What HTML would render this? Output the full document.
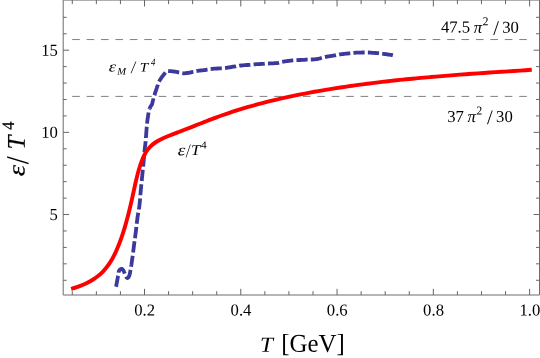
<!DOCTYPE html>
<html><head><meta charset="utf-8"><title>plot</title>
<style>
html,body{margin:0;padding:0;background:#fff;overflow:hidden;}
svg{display:block;will-change:transform;}
text{font-family:"Liberation Serif",serif;fill:#000;text-rendering:geometricPrecision;}
</style></head><body>
<svg width="540" height="358" viewBox="0 0 540 358">
<rect x="0" y="0" width="540" height="358" fill="#ffffff"/>
<line x1="72.2" y1="39.55" x2="529.6" y2="39.55" stroke="#808080" stroke-width="1" stroke-dasharray="7.6 6.82"/>
<line x1="72.2" y1="96.40" x2="529.6" y2="96.40" stroke="#808080" stroke-width="1" stroke-dasharray="7.6 6.82"/>
<polyline points="116.0,286.8 116.2,286.0 116.3,285.2 116.5,284.4 116.6,283.7 116.8,282.9 116.9,282.1 117.1,281.3 117.2,280.5 117.4,279.7 117.5,278.9 117.6,278.2 117.8,277.4 117.9,276.6 118.1,275.8 118.2,275.0 118.3,274.2 118.4,273.4 118.5,272.6 118.7,271.8 119.0,271.1 119.3,270.4 119.8,269.7 120.4,269.2 121.1,268.9 121.9,269.0 122.6,269.4 123.1,270.0 123.5,270.7 123.9,271.4 124.2,272.2 124.5,272.9 124.8,273.7 125.1,274.4 125.4,275.2 125.6,275.9 126.0,276.6 126.4,277.3 126.9,277.9 127.7,278.0 128.4,277.5 128.8,276.8 129.1,276.1 129.4,275.3 129.6,274.6 129.8,273.8 130.0,273.0 130.1,272.2 130.3,271.4 130.4,270.6 130.5,269.9 130.7,269.1 130.8,268.3 131.0,267.5 131.1,266.7 131.2,265.9 131.4,265.1 131.5,264.3 131.6,263.5 131.7,262.8 131.8,262.0 131.9,261.2 132.0,260.4 132.1,259.6 132.2,258.8 132.4,258.0 132.5,257.2 132.6,256.4 132.7,255.6 132.8,254.8 132.9,254.0 133.0,253.2 133.1,252.4 133.2,251.7 133.3,250.9 133.4,250.1 133.5,249.3 133.6,248.5 133.7,247.7 133.8,246.9 133.9,246.1 134.0,245.3 134.1,244.5 134.2,243.7 134.3,242.9 134.4,242.1 134.5,241.3 134.6,240.6 134.7,239.8 134.9,239.0 135.0,238.2 135.1,237.4 135.2,236.6 135.3,235.8 135.4,235.0 135.5,234.2 135.6,233.4 135.7,232.6 135.8,231.8 135.9,231.0 136.0,230.2 136.1,229.4 136.2,228.6 136.3,227.9 136.3,227.1 136.4,226.3 136.5,225.5 136.6,224.7 136.7,223.9 136.8,223.1 136.9,222.3 137.0,221.5 137.1,220.7 137.2,219.9 137.3,219.1 137.4,218.3 137.5,217.5 137.6,216.7 137.7,215.9 137.9,215.2 138.0,214.4 138.1,213.6 138.3,212.8 138.4,212.0 138.5,211.2 138.7,210.4 138.8,209.6 138.9,208.8 139.1,208.1 139.2,207.3 139.3,206.5 139.4,205.7 139.5,204.9 139.6,204.1 139.7,203.3 139.8,202.5 139.8,201.7 139.9,200.9 140.0,200.1 140.1,199.3 140.1,198.5 140.2,197.7 140.2,196.9 140.3,196.1 140.4,195.3 140.4,194.5 140.5,193.7 140.6,192.9 140.6,192.1 140.7,191.3 140.8,190.5 140.8,189.7 140.9,189.0 141.0,188.2 141.1,187.4 141.1,186.6 141.2,185.8 141.3,185.0 141.4,184.2 141.5,183.4 141.5,182.6 141.6,181.8 141.7,181.0 141.8,180.2 141.9,179.4 141.9,178.6 142.0,177.8 142.1,177.0 142.2,176.2 142.3,175.4 142.3,174.6 142.4,173.8 142.5,173.0 142.6,172.2 142.7,171.4 142.7,170.6 142.8,169.8 142.9,169.1 143.0,168.3 143.1,167.5 143.1,166.7 143.2,165.9 143.3,165.1 143.4,164.3 143.5,163.5 143.5,162.7 143.6,161.9 143.7,161.1 143.7,160.3 143.8,159.5 143.9,158.7 143.9,157.9 144.0,157.1 144.1,156.3 144.1,155.5 144.2,154.7 144.3,153.9 144.3,153.1 144.4,152.3 144.5,151.5 144.6,150.7 144.7,149.9 144.7,149.1 144.8,148.3 144.9,147.5 145.0,146.8 145.1,146.0 145.2,145.2 145.3,144.4 145.4,143.6 145.5,142.8 145.6,142.0 145.6,141.2 145.7,140.4 145.8,139.6 145.8,138.8 145.9,138.0 145.9,137.2 146.0,136.4 146.1,135.6 146.1,134.8 146.2,134.0 146.2,133.2 146.3,132.4 146.4,131.6 146.4,130.8 146.5,130.0 146.6,129.2 146.6,128.4 146.7,127.6 146.8,126.8 146.8,126.0 146.9,125.2 147.0,124.4 147.1,123.6 147.2,122.8 147.2,122.1 147.3,121.3 147.4,120.5 147.5,119.7 147.6,118.9 147.7,118.1 147.9,117.3 148.0,116.5 148.1,115.7 148.2,114.9 148.3,114.1 148.5,113.3 148.6,112.6 148.7,111.8 148.9,111.0 149.1,110.2 149.3,109.4 149.6,108.7" fill="none" stroke="#3b3a9c" stroke-width="3.8" stroke-linejoin="round" stroke-dasharray="11.2 3.22"/>
<polyline points="149.6,108.7 149.9,107.9 150.2,107.2 150.5,106.5 151.0,105.8 151.5,105.2 151.9,104.5 152.2,103.8 152.4,103.0 152.5,102.2 152.7,101.4 152.9,100.6 153.1,99.9 153.3,99.1 153.5,98.3 153.7,97.6 154.0,96.8 154.2,96.0 154.4,95.3 154.7,94.5 154.9,93.7 155.1,93.0 155.4,92.2 155.6,91.4 155.9,90.7 156.1,89.9 156.4,89.2 156.6,88.4 156.9,87.7 157.2,86.9 157.4,86.1 157.7,85.4 157.9,84.6 158.2,83.9 158.5,83.1 158.7,82.4 159.1,81.6 159.4,80.9 159.8,80.2 160.3,79.5 160.7,78.9 161.1,78.2 161.6,77.5 162.0,76.9 162.5,76.2 163.0,75.6 163.5,75.0 164.0,74.3 164.5,73.7 165.0,73.1 165.5,72.5 166.0,71.8 166.6,71.3 167.3,71.1 168.1,71.1" fill="none" stroke="#3b3a9c" stroke-width="3.8" stroke-linejoin="round" stroke-dasharray="11.2 3.22"/>
<polyline points="168.1,71.1 168.9,71.1 169.7,71.1 170.5,71.2 171.3,71.2 172.1,71.3 172.9,71.4 173.7,71.5 174.5,71.6 175.3,71.7 176.1,71.8 176.9,72.0 177.7,72.1 178.5,72.3 179.2,72.4 180.0,72.6 180.8,72.9 181.5,73.1 182.3,73.2 183.1,73.3 183.9,73.3 184.7,73.3 185.5,73.2 186.3,73.1 187.1,73.0 187.9,72.9 188.7,72.8 189.5,72.6 190.3,72.5 191.1,72.4 191.8,72.2 192.6,72.0 193.4,71.9 194.2,71.6 194.9,71.4 195.7,71.2 196.5,71.1 197.3,70.9 198.1,70.8 198.9,70.7 199.7,70.6 200.5,70.5 201.3,70.4 202.1,70.4 202.9,70.3 203.6,70.2 204.4,70.1 205.2,70.0 206.0,69.9 206.8,69.7 207.6,69.6 208.4,69.3 209.1,69.1 209.9,69.0 210.7,69.0 211.5,68.9 212.3,68.8 213.1,68.8 213.9,68.7 214.7,68.7 215.5,68.6 216.3,68.6 217.1,68.5 217.9,68.5 218.7,68.4 219.5,68.4 220.3,68.3 221.1,68.3 221.9,68.3 222.7,68.3 223.5,68.2 224.3,68.1 225.1,68.0 225.9,67.9 226.7,67.8 227.5,67.6 228.2,67.5 229.0,67.4 229.8,67.3 230.6,67.1 231.4,67.0 232.2,66.9 233.0,66.7 233.8,66.6 234.6,66.5 235.4,66.4 236.1,66.2 236.9,66.1 237.7,66.0 238.5,65.9 239.3,65.7 240.1,65.6 240.9,65.5 241.7,65.5 242.5,65.4 243.3,65.3 244.1,65.2 244.9,65.1 245.7,65.1 246.5,65.0 247.3,65.0 248.1,65.0 248.9,64.9 249.7,64.9 250.5,64.8 251.2,64.7 252.0,64.6 252.8,64.5 253.6,64.4 254.4,64.3 255.2,64.3 256.0,64.2 256.8,64.2 257.6,64.2 258.4,64.1 259.2,64.1 260.0,64.0 260.8,64.0 261.6,63.9 262.4,63.9 263.2,63.8 264.0,63.8 264.8,63.7 265.6,63.7 266.4,63.6 267.2,63.5 268.0,63.5 268.8,63.5 269.6,63.4 270.4,63.4 271.2,63.4 272.0,63.3 272.8,63.3 273.6,63.3 274.4,63.2 275.2,63.2 276.0,63.2 276.8,63.1 277.6,63.0 278.4,62.8 279.1,62.6 279.9,62.3 280.7,62.1 281.4,61.9 282.2,61.8 283.0,61.7 283.8,61.6 284.6,61.4 285.4,61.3 286.2,61.2 287.0,61.1 287.8,61.0 288.6,60.9 289.4,60.8 290.2,60.7 290.9,60.6 291.7,60.5 292.5,60.4 293.3,60.3 294.1,60.3 294.9,60.3 295.7,60.2 296.5,60.2 297.3,60.1 298.1,60.1 298.9,60.0 299.7,60.0 300.5,60.0 301.3,59.9 302.1,59.9 302.9,59.8 303.7,59.8 304.5,59.8 305.3,59.7 306.1,59.7 306.9,59.7 307.7,59.7 308.5,59.6 309.3,59.6 310.1,59.6 310.9,59.6 311.7,59.5 312.5,59.5 313.3,59.4 314.1,59.3 314.9,59.3 315.7,59.2 316.5,59.1 317.3,59.0 318.1,58.8 318.8,58.7 319.6,58.5 320.4,58.3 321.2,58.0 321.9,57.8 322.7,57.5 323.5,57.3 324.2,57.2 325.0,57.0 325.8,56.9 326.6,56.7 327.4,56.6 328.2,56.4 329.0,56.3 329.8,56.2 330.5,56.1 331.3,55.9 332.1,55.8 332.9,55.7 333.7,55.5 334.5,55.4 335.3,55.3 336.1,55.1 336.8,54.9 337.6,54.8 338.4,54.7 339.2,54.5 340.0,54.4 340.8,54.3 341.6,54.2 342.4,54.1 343.2,54.0 344.0,53.9 344.8,53.8 345.6,53.7 346.4,53.7 347.1,53.6 347.9,53.5 348.7,53.4 349.5,53.3 350.3,53.2 351.1,53.1 351.9,53.0 352.7,52.9 353.5,52.8 354.3,52.8 355.1,52.8 355.9,52.7 356.7,52.7 357.5,52.7 358.3,52.7 359.1,52.6 359.9,52.6 360.7,52.6 361.5,52.6 362.3,52.5 363.1,52.5 363.9,52.5 364.7,52.5 365.5,52.4 366.3,52.4 367.1,52.5 367.9,52.5 368.7,52.5 369.5,52.6 370.3,52.6 371.1,52.7 371.9,52.8 372.7,52.8 373.5,52.9 374.3,52.9 375.1,53.0 375.9,53.0 376.7,53.1 377.5,53.2 378.3,53.2 379.1,53.3 379.9,53.4 380.7,53.5 381.5,53.6 382.2,53.7 383.0,53.8 383.8,53.9 384.6,54.0 385.4,54.1 386.2,54.2 387.0,54.4 387.8,54.5 388.6,54.6 389.4,54.7 390.2,54.8 391.0,54.9 391.7,55.0 392.5,55.1 392.9,55.2" fill="none" stroke="#3b3a9c" stroke-width="3.8" stroke-linejoin="round" stroke-dasharray="11.2 3.22"/>
<path d="M71.10 288.89C72.06 288.60 74.95 287.77 76.84 287.13C78.73 286.48 80.61 285.77 82.46 285.00C84.30 284.22 86.13 283.39 87.90 282.47C89.68 281.55 91.43 280.57 93.12 279.49C94.80 278.42 96.45 277.27 98.01 276.02C99.57 274.78 101.07 273.43 102.48 272.02C103.89 270.60 105.21 269.08 106.45 267.52C107.70 265.95 108.85 264.31 109.95 262.63C111.04 260.96 112.05 259.23 113.01 257.47C113.97 255.72 114.86 253.92 115.71 252.11C116.55 250.29 117.34 248.45 118.10 246.60C118.86 244.75 119.57 242.87 120.26 241.00C120.94 239.12 121.60 237.22 122.23 235.33C122.87 233.43 123.48 231.52 124.07 229.61C124.66 227.70 125.23 225.78 125.78 223.85C126.33 221.93 126.86 220.00 127.38 218.06C127.90 216.13 128.39 214.19 128.88 212.25C129.37 210.31 129.84 208.36 130.30 206.41C130.76 204.47 131.20 202.51 131.64 200.56C132.09 198.61 132.52 196.66 132.94 194.70C133.37 192.74 133.79 190.79 134.21 188.83C134.64 186.87 135.06 184.92 135.50 182.97C135.95 181.01 136.39 179.06 136.87 177.12C137.36 175.18 137.85 173.24 138.40 171.31C138.94 169.38 139.50 167.46 140.13 165.56C140.76 163.66 141.40 161.76 142.15 159.91C142.90 158.05 143.69 156.20 144.65 154.45C145.60 152.70 146.66 150.97 147.89 149.40C149.12 147.84 150.52 146.37 152.01 145.05C153.51 143.74 155.16 142.57 156.86 141.51C158.55 140.46 160.36 139.57 162.16 138.70C163.96 137.84 165.82 137.08 167.67 136.31C169.52 135.55 171.38 134.83 173.25 134.10C175.11 133.37 176.99 132.67 178.86 131.95C180.73 131.24 182.60 130.52 184.46 129.79C186.33 129.07 188.19 128.33 190.05 127.60C191.91 126.87 193.78 126.13 195.64 125.39C197.50 124.66 199.36 123.92 201.22 123.19C203.09 122.46 204.95 121.73 206.82 121.01C208.69 120.29 210.55 119.57 212.43 118.86C214.30 118.16 216.18 117.46 218.06 116.77C219.94 116.09 221.82 115.41 223.71 114.75C225.60 114.09 227.50 113.45 229.39 112.81C231.29 112.18 233.20 111.56 235.10 110.95C237.01 110.34 238.92 109.74 240.83 109.15C242.75 108.57 244.66 107.99 246.59 107.43C248.51 106.87 250.43 106.32 252.36 105.78C254.29 105.23 256.22 104.71 258.15 104.19C260.08 103.67 262.02 103.16 263.96 102.66C265.90 102.16 267.84 101.67 269.78 101.20C271.72 100.72 273.67 100.25 275.62 99.79C277.57 99.33 279.52 98.88 281.47 98.44C283.42 98.00 285.38 97.56 287.33 97.14C289.29 96.72 291.25 96.30 293.21 95.89C295.17 95.49 297.13 95.09 299.09 94.69C301.05 94.30 303.02 93.92 304.98 93.54C306.95 93.16 308.92 92.79 310.89 92.43C312.85 92.07 314.82 91.71 316.79 91.36C318.77 91.01 320.74 90.67 322.71 90.33C324.68 89.99 326.66 89.66 328.63 89.33C330.61 89.01 332.58 88.69 334.56 88.38C336.54 88.06 338.52 87.76 340.49 87.45C342.47 87.15 344.45 86.86 346.43 86.57C348.41 86.28 350.40 85.99 352.38 85.71C354.36 85.43 356.34 85.16 358.33 84.89C360.31 84.62 362.29 84.35 364.28 84.09C366.26 83.84 368.25 83.58 370.23 83.33C372.22 83.08 374.21 82.84 376.19 82.60C378.18 82.36 380.17 82.12 382.16 81.89C384.15 81.66 386.14 81.43 388.12 81.21C390.11 80.99 392.10 80.77 394.09 80.55C396.08 80.34 398.07 80.13 400.07 79.92C402.06 79.72 404.05 79.51 406.04 79.31C408.03 79.11 410.02 78.92 412.02 78.73C414.01 78.53 416.00 78.35 417.99 78.16C419.99 77.98 421.98 77.79 423.97 77.61C425.97 77.43 427.96 77.26 429.96 77.09C431.95 76.91 433.94 76.74 435.94 76.57C437.93 76.41 439.93 76.24 441.92 76.08C443.92 75.92 445.91 75.76 447.91 75.60C449.91 75.44 451.90 75.29 453.90 75.13C455.89 74.98 457.89 74.83 459.88 74.68C461.88 74.53 463.88 74.38 465.87 74.24C467.87 74.09 469.87 73.95 471.86 73.81C473.86 73.67 475.86 73.52 477.85 73.39C479.85 73.25 481.85 73.11 483.84 72.97C485.84 72.84 487.84 72.70 489.84 72.57C491.83 72.43 493.83 72.30 495.83 72.16C497.82 72.03 499.82 71.90 501.82 71.77C503.82 71.64 505.81 71.51 507.81 71.38C509.81 71.25 511.81 71.12 513.80 70.99C515.80 70.86 517.80 70.73 519.80 70.60C521.79 70.47 523.79 70.34 525.79 70.21C527.79 70.08 530.78 69.89 531.78 69.82" fill="none" stroke="#ff0000" stroke-width="3.9" stroke-linejoin="round"/>
<path d="M63.2 0.05H539.5V295.0H63.2Z" fill="none" stroke="#6c6c6c" stroke-width="1"/>
<path d="M72.29 295.0v-3.8M72.29 0v4.1M96.36 295.0v-3.8M96.36 0v4.1M120.43 295.0v-3.8M120.43 0v4.1M144.5 295.0v-6.2M144.5 0v6.5M168.57 295.0v-3.8M168.57 0v4.1M192.64 295.0v-3.8M192.64 0v4.1M216.71 295.0v-3.8M216.71 0v4.1M240.78 295.0v-6.2M240.78 0v6.5M264.85 295.0v-3.8M264.85 0v4.1M288.92 295.0v-3.8M288.92 0v4.1M312.99 295.0v-3.8M312.99 0v4.1M337.06 295.0v-6.2M337.06 0v6.5M361.13 295.0v-3.8M361.13 0v4.1M385.2 295.0v-3.8M385.2 0v4.1M409.27 295.0v-3.8M409.27 0v4.1M433.34 295.0v-6.2M433.34 0v6.5M457.41 295.0v-3.8M457.41 0v4.1M481.48 295.0v-3.8M481.48 0v4.1M505.55 295.0v-3.8M505.55 0v4.1M529.62 295.0v-6.2M529.62 0v6.5M63.2 280.27h3.5M539.5 280.27h-3.5M63.2 263.83h3.5M539.5 263.83h-3.5M63.2 247.4h3.5M539.5 247.4h-3.5M63.2 230.96h3.5M539.5 230.96h-3.5M63.2 214.53h5.9M539.5 214.53h-5.9M63.2 198.1h3.5M539.5 198.1h-3.5M63.2 181.66h3.5M539.5 181.66h-3.5M63.2 165.23h3.5M539.5 165.23h-3.5M63.2 148.79h3.5M539.5 148.79h-3.5M63.2 132.36h5.9M539.5 132.36h-5.9M63.2 115.93h3.5M539.5 115.93h-3.5M63.2 99.49h3.5M539.5 99.49h-3.5M63.2 83.06h3.5M539.5 83.06h-3.5M63.2 66.62h3.5M539.5 66.62h-3.5M63.2 50.19h5.9M539.5 50.19h-5.9M63.2 33.76h3.5M539.5 33.76h-3.5M63.2 17.32h3.5M539.5 17.32h-3.5" fill="none" stroke="#666666" stroke-width="1"/>
<text transform="translate(144.70 315.50) matrix(1 .001 0 1 0 0)" font-size="16.7" text-anchor="middle">0.2</text>
<text transform="translate(240.98 315.50) matrix(1 .001 0 1 0 0)" font-size="16.7" text-anchor="middle">0.4</text>
<text transform="translate(337.26 315.50) matrix(1 .001 0 1 0 0)" font-size="16.7" text-anchor="middle">0.6</text>
<text transform="translate(433.54 315.50) matrix(1 .001 0 1 0 0)" font-size="16.7" text-anchor="middle">0.8</text>
<text transform="translate(529.82 315.50) matrix(1 .001 0 1 0 0)" font-size="16.7" text-anchor="middle">1.0</text>
<text transform="translate(57.90 219.95) matrix(1 .001 0 1 0 0)" font-size="16.7" text-anchor="end">5</text>
<text transform="translate(57.90 137.85) matrix(1 .001 0 1 0 0)" font-size="16.7" text-anchor="end">10</text>
<text transform="translate(57.90 55.75) matrix(1 .001 0 1 0 0)" font-size="16.7" text-anchor="end">15</text>
<text transform="translate(440.90 32.60) matrix(1 .001 0 1 0 0)" font-size="16.7">47.5<tspan font-style="italic" dx="3.7">π</tspan><tspan font-size="12" dy="-7.4" dx="0.4">2</tspan><tspan font-size="20.5" dy="9.5" dx="4.6">/</tspan><tspan dy="-2.1" dx="3.4">30</tspan></text>
<text transform="translate(447.20 121.90) matrix(1 .001 0 1 0 0)" font-size="16.7">37<tspan font-style="italic" dx="3.7">π</tspan><tspan font-size="12" dy="-7.4" dx="0.4">2</tspan><tspan font-size="20.5" dy="9.5" dx="4.6">/</tspan><tspan dy="-2.1" dx="3.4">30</tspan></text>
<text transform="translate(108.68 71.60) matrix(1.225 .001 0 1 0 0)" font-size="15.00" font-style="italic">ε</text>
<text transform="translate(117.26 74.45) matrix(1.067 .001 0 1 0 0)" font-size="10.00" font-style="italic">M</text>
<text transform="translate(131.22 73.08) matrix(0.822 .001 0 1 0 0)" font-size="17.46" font-style="italic">/</text>
<text transform="translate(139.79 71.55) matrix(1.175 .001 0 1 0 0)" font-size="12.92" font-style="italic">T</text>
<text transform="translate(150.95 65.45) matrix(0.837 .001 0 1 0 0)" font-size="10.45" font-style="italic">4</text>
<text transform="translate(177.87 155.19) matrix(1.196 .001 0 1 0 0)" font-size="16.04" font-style="italic">ε</text>
<text transform="translate(186.15 157.36) matrix(0.653 .001 0 1 0 0)" font-size="19.25" font-style="italic">/</text>
<text transform="translate(191.08 154.95) matrix(1.117 .001 0 1 0 0)" font-size="14.92" font-style="italic">T</text>
<text transform="translate(201.02 148.55) matrix(1.066 .001 0 1 0 0)" font-size="10.61">4</text>
<text transform="translate(14.05 129.68) rotate(-90) matrix(0.928 .001 0 1 0 0)" font-size="17.58" stroke="#000" stroke-width="0.18">4</text>
<text transform="translate(24.75 149.40) rotate(-90) matrix(0.979 .001 0 1 0 0)" font-size="25.54" font-style="italic" stroke="#000" stroke-width="0.18">T</text>
<text transform="translate(28.13 164.15) rotate(-90) matrix(0.890 .001 0 1 0 0)" font-size="32.09">/</text>
<text transform="translate(24.51 176.13) rotate(-90) matrix(1.207 .001 0 1 0 0)" font-size="23.96" font-style="italic" stroke="#000" stroke-width="0.15">ε</text>
<text transform="translate(259.92 351.65) matrix(1.083 .001 0 1 0 0)" font-size="21.54" font-style="italic">T</text>
<text transform="translate(281.25 351.70) matrix(0.972 .001 0 1 0 0)" font-size="25.6">[GeV]</text>
</svg>
</body></html>
